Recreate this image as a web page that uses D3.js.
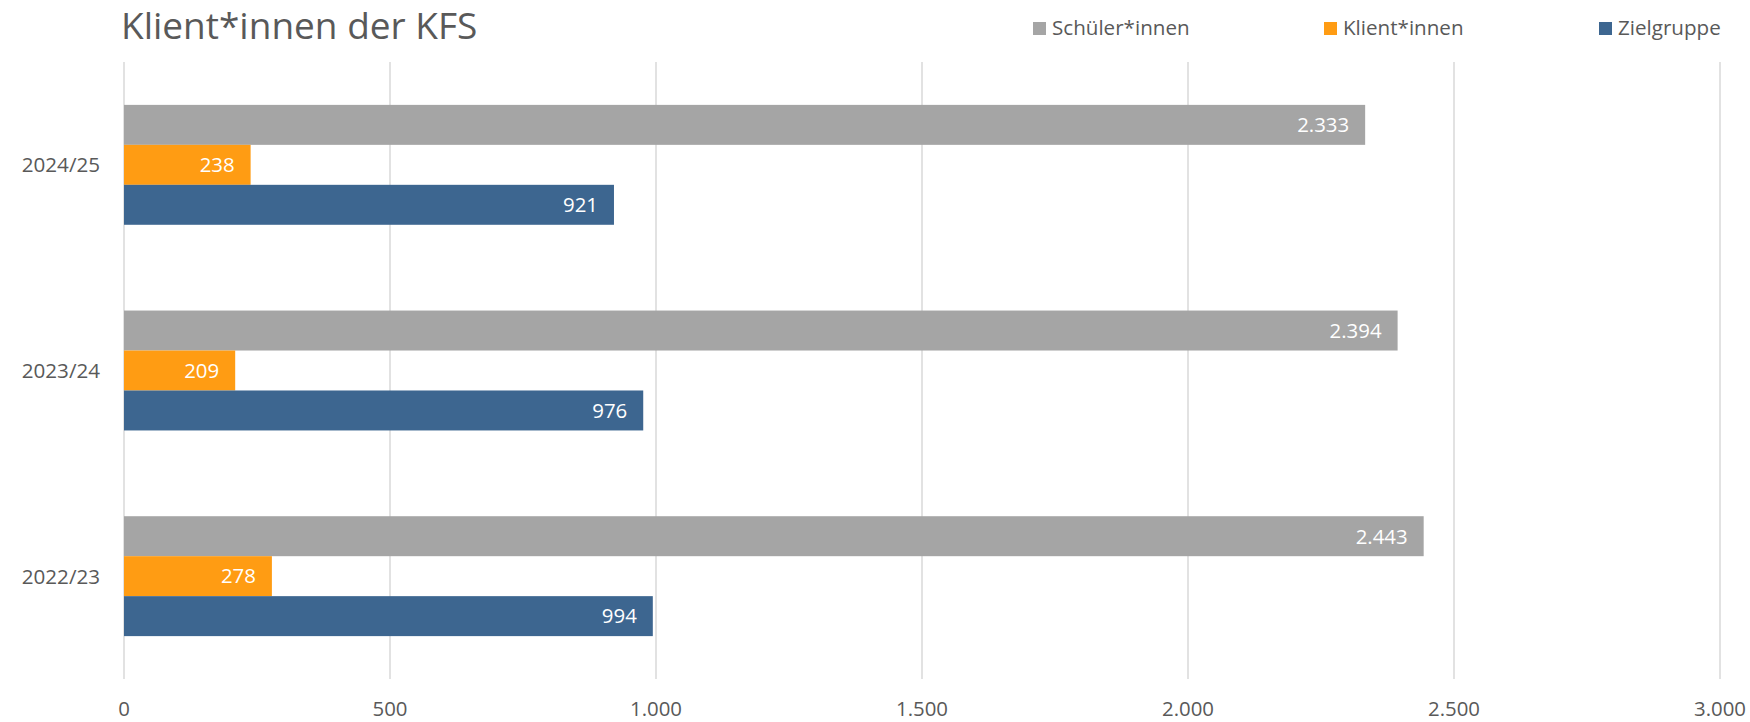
<!DOCTYPE html>
<html lang="de">
<head>
    <meta charset="utf-8">
    <title>Klient*innen der KFS</title>
    <style type="text/css">
        body { margin: 0; background: #fff; }
        .chart text { font-family: "Open Sans", sans-serif; fill: #595959; }
        .chart .grid line { stroke: #d9d9d9; stroke-width: 1.5; }
        .chart .title { font-size: 37px; }
        .chart .legend text { font-size: 20.6px; }
        .chart .cat { font-size: 20.6px; }
        .chart .tick-label { font-size: 20.4px; }
        .chart .value { font-size: 20.4px; fill: #fff; }
    </style>
</head>
<body>
    <svg class="chart" width="1750" height="722"></svg>

    <script src="https://cdnjs.cloudflare.com/ajax/libs/d3/7.8.5/d3.min.js"></script>
    <script>
        // Daten
        var years = ['2024/25', '2023/24', '2022/23'];
        var seriesNames = ['Schüler*innen', 'Klient*innen', 'Zielgruppe'];
        var schueler = [2333, 2394, 2443];
        var klienten = [238, 209, 278];
        var zielgruppe = [921, 976, 994];
        var ticks = [0, 500, 1000, 1500, 2000, 2500, 3000];
        var colors = ['#a5a5a5', '#ff9c13', '#3d6690'];

        var values = [schueler, klienten, zielgruppe];

        var svg = d3.select('.chart'),
            plot = {left: 124, right: 1720, top: 62, bottom: 679};

        // deutsches Zahlenformat
        var de = d3.formatLocale({decimal: ',', thousands: '.', grouping: [3], currency: ['', ' €']});
        var fmt = de.format(',d');

        var x = d3.scaleLinear()
            .domain([0, 3000])
            .range([plot.left, plot.right]);

        var y = d3.scaleBand()
            .domain(years)
            .range([plot.top, plot.bottom])
            .paddingInner(0.417)
            .paddingOuter(0.2085);

        var ySub = d3.scaleBand()
            .domain(seriesNames)
            .range([0, y.bandwidth()]);

        // Titel
        svg.append('text')
            .attr('class', 'title')
            .attr('x', 121)
            .attr('y', 39)
            .text('Klient*innen der KFS');

        // Gitterlinien
        var grid = svg.append('g').attr('class', 'grid');
        grid.selectAll('line')
            .data(ticks)
            .enter()
            .append('line')
            .attr('x1', function(d) { return x(d); })
            .attr('x2', function(d) { return x(d); })
            .attr('y1', plot.top)
            .attr('y2', plot.bottom);

        svg.append('g')
            .selectAll('text')
            .data(ticks)
            .enter()
            .append('text')
            .attr('class', 'tick-label')
            .attr('x', function(d) { return x(d); })
            .attr('y', 716)
            .attr('text-anchor', 'middle')
            .text(function(d) { return fmt(d); });

        // Kategorien
        svg.append('g')
            .selectAll('text')
            .data(years)
            .enter()
            .append('text')
            .attr('class', 'cat')
            .attr('x', 100)
            .attr('y', function(d) { return y(d) + y.bandwidth() / 2; })
            .attr('dy', '0.36em')
            .attr('text-anchor', 'end')
            .text(function(d) { return d; });

        // Balken
        var groups = svg.append('g')
            .selectAll('g')
            .data(years)
            .enter()
            .append('g')
            .attr('transform', function(d) { return 'translate(0,' + y(d) + ')'; });

        var bars = groups.selectAll('g')
            .data(function(d, i) {
                return seriesNames.map(function(s, k) {
                    return {series: s, k: k, value: values[k][i]};
                });
            })
            .enter()
            .append('g');

        bars.append('rect')
            .attr('x', x(0))
            .attr('y', function(d) { return ySub(d.series); })
            .attr('width', function(d) { return x(d.value) - x(0); })
            .attr('height', ySub.bandwidth())
            .attr('fill', function(d) { return colors[d.k]; });

        bars.append('text')
            .attr('class', 'value')
            .attr('x', function(d) { return x(d.value) - 16; })
            .attr('y', function(d) { return ySub(d.series) + ySub.bandwidth() / 2; })
            .attr('dy', '0.36em')
            .attr('text-anchor', 'end')
            .text(function(d) { return fmt(d.value); });

        // Legende
        var legendX = [1033, 1324, 1599];
        var legend = svg.append('g').attr('class', 'legend')
            .selectAll('g')
            .data(seriesNames)
            .enter()
            .append('g')
            .attr('transform', function(d, i) { return 'translate(' + legendX[i] + ',0)'; });

        legend.append('rect')
            .attr('x', 0)
            .attr('y', 22)
            .attr('width', 13)
            .attr('height', 13)
            .attr('fill', function(d, i) { return colors[i]; });

        legend.append('text')
            .attr('x', 19)
            .attr('y', 35)
            .text(function(d) { return d; });
    </script>
</body>
</html>
